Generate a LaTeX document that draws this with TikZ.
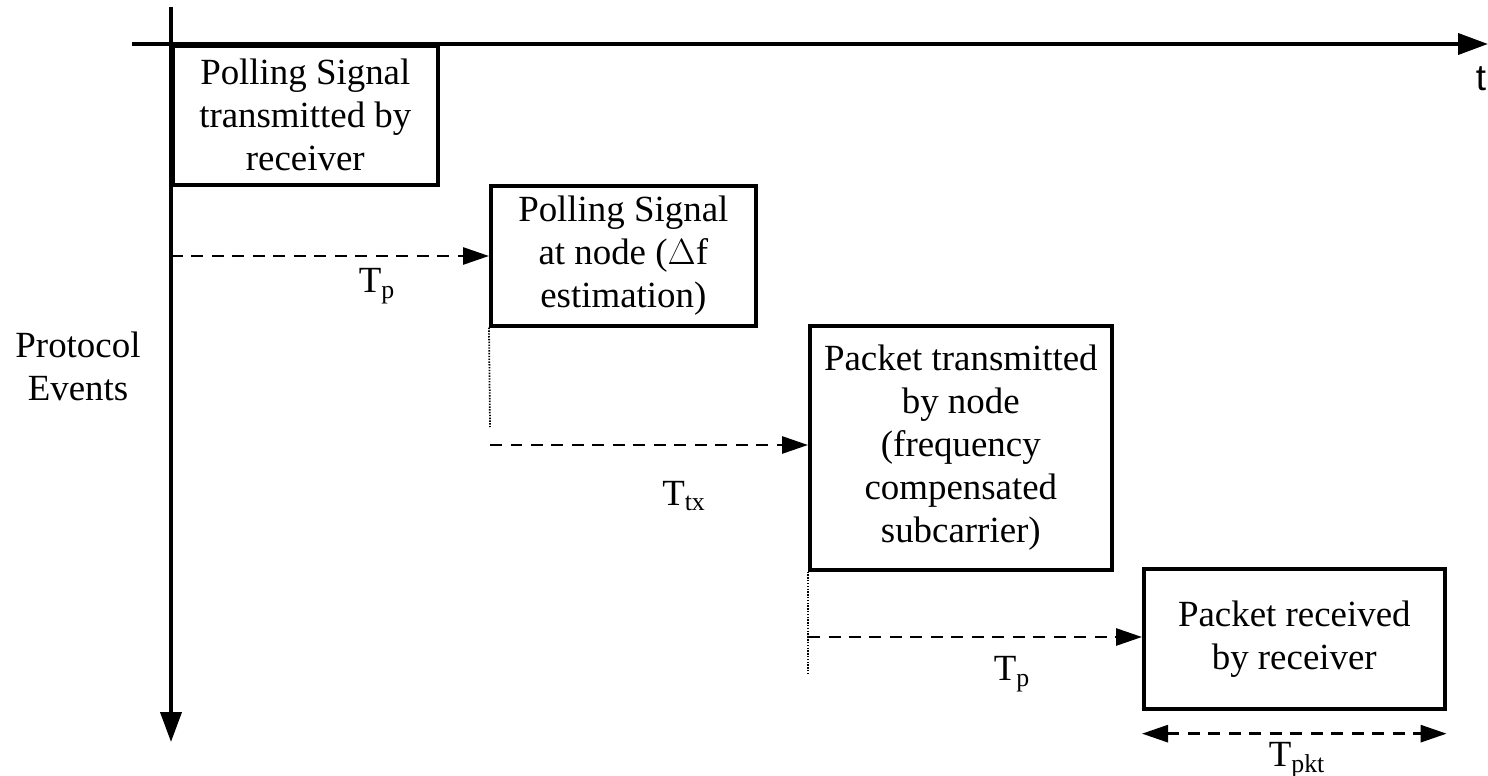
\documentclass[tikz,border=0pt]{standalone}
\usepackage{fontspec}
\setmainfont{Liberation Serif}
\newfontfamily\axisfont{Liberation Sans}
\usetikzlibrary{positioning, arrows.meta, calc}

\tikzset{
    evbox/.style={draw, line width=2.1pt, anchor=north west, align=center, inner sep=0pt},
    axisline/.style={line width=2.2pt, -{Triangle[length=0.6cm, width=0.42cm]}},
    gaparrow/.style={line width=1.6pt, dash pattern=on 0.24cm off 0.17cm, -{Triangle[length=0.52cm, width=0.34cm]}},
    gapboth/.style={line width=1.6pt, dash pattern=on 0.24cm off 0.17cm, {Triangle[length=0.52cm, width=0.34cm]}-{Triangle[length=0.52cm, width=0.34cm]}},
    guide/.style={line width=1pt, dash pattern=on 0.8pt off 0.8pt},
    gaplabel/.style={inner sep=0pt}
}

\begin{document}
\begin{tikzpicture}[x=0.02cm, y=-0.02cm, font=\fontsize{21}{24.5}\selectfont]
        \useasboundingbox (0,0) rectangle (1488,776);

        % Time and event axes
        \coordinate (tstart) at (132,44);
        \coordinate (tend) at (1488,44);
        \coordinate (estart) at (171,7);
        \coordinate (eend) at (171,742);
        \draw[axisline] (tstart) -- (tend);
        \draw[axisline] (estart) -- (eend);
        \node[font=\axisfont\fontsize{21}{24.5}\selectfont] (tlabel) at (1481,79) {t};
        \node[align=center] (events) at (78,366) {Protocol\\Events};

        % Protocol event boxes
        \node[evbox, minimum width=5.3cm, minimum height=2.78cm] (pollrx) at (171,44)
            {Polling Signal\\transmitted by\\receiver};
        \node[evbox, minimum width=5.3cm, minimum height=2.8cm] (pollnode) at (489,184)
            {Polling Signal\\at node ($\Delta$f\\estimation)};
        \node[evbox, minimum width=6.04cm, minimum height=4.88cm] (pkttx) at (808,324)
            {Packet transmitted\\by node\\(frequency\\compensated\\subcarrier)};
        \node[evbox, minimum width=6.02cm, minimum height=2.8cm] (pktrx) at (1142,567)
            {Packet received\\by receiver};

        % Propagation delay to node
        \coordinate (tpone) at (171,256);
        \draw[gaparrow] (tpone) -- (tpone -| pollnode.west);
        \node[gaplabel] (tponelabel) at (377,286) {T\textsubscript{p}};

        % Processing delay at node
        \coordinate (guideone) at (490,427);
        \draw[guide] (pollnode.south west) -- (guideone);
        \coordinate (txstart) at (490,445);
        \draw[gaparrow] (txstart) -- (txstart -| pkttx.west);
        \node[gaplabel] (txlabel) at (684,496) {T\textsubscript{tx}};

        % Propagation delay to receiver
        \coordinate (guidetwo) at (808,675);
        \draw[guide] (pkttx.south west) -- (guidetwo);
        \coordinate (tptwo) at (808,637);
        \draw[gaparrow] (tptwo) -- (tptwo -| pktrx.west);
        \node[gaplabel] (tptwolabel) at (1012,674) {T\textsubscript{p}};

        % Packet duration
        \coordinate (pktl) at ($(pktrx.south west)+(0,23)$);
        \coordinate (pktr) at ($(pktrx.south east)+(0,23)$);
        \draw[gapboth] (pktl) -- (pktr);
        \node[gaplabel] (pktlabel) at (1297,760) {T\textsubscript{pkt}};
    \end{tikzpicture}
\end{document}
